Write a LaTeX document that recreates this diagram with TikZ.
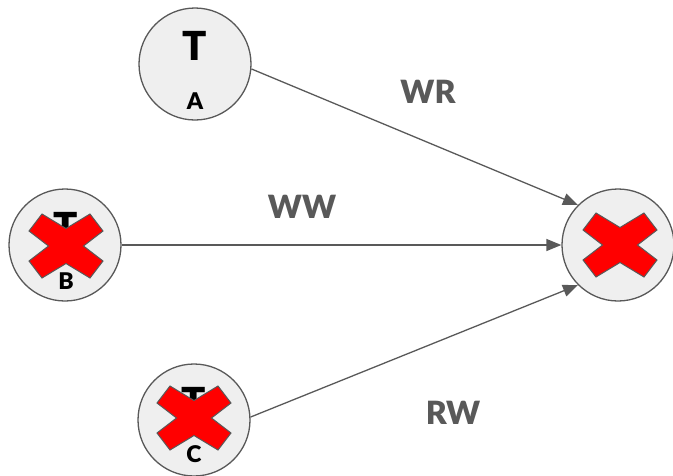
\documentclass[tikz,border=0pt]{standalone}
\usepackage{fontspec}
\setmainfont{Lato}[BoldFont={Lato Black}]
\usetikzlibrary{arrows.meta}
\definecolor{edgegray}{HTML}{595959}
\definecolor{nodefill}{HTML}{EFEFEF}
\definecolor{xred}{HTML}{FF0000}
\tikzset{
  txnode/.style={circle, draw=edgegray, fill=nodefill, line width=1.3pt, minimum size=112pt, inner sep=0pt},
  bigT/.style={font=\bfseries\fontsize{40}{40}\selectfont, inner sep=0pt},
  small/.style={font=\bfseries\fontsize{23}{23}\selectfont, inner sep=0pt},
  conn/.style={draw=edgegray, line width=1.3pt, -{Triangle[length=15pt,width=12pt]}},
  lbl/.style={font=\bfseries\fontsize{32}{32}\selectfont, text=edgegray, inner sep=0pt},
  xmark/.pic={\draw[draw=edgegray, fill=xred, line width=1pt, line join=miter]
    (-37,-15) -- (-24,-32) -- (0,-17.5) -- (24,-32) -- (37,-15) -- (17.5,0) --
    (37,15) -- (24,32) -- (0,17.5) -- (-24,32) -- (-37,15) -- (-17.5,0) -- cycle;}
}
\begin{document}
\begin{tikzpicture}[x=1pt,y=-1pt]
\useasboundingbox (0,0) rectangle (673,475);
% nodes
\node[txnode] (A) at (195,64) {};
\node[txnode] (B) at (65,245) {};
\node[txnode] (C) at (194,420) {};
\node[txnode] (D) at (618,245) {};
% texts
\node[bigT] (tA) at (195,46) {T};
\node[small] (lA) at (195,101) {A};
\node[bigT] (tB) at (66,227) {T};
\node[small] (lB) at (66,281) {B};
\node[bigT] (tC) at (194,402) {T};
\node[small] (lC) at (194,454) {C};
% crosses
\pic at (66,246) {xmark};
\pic at (194,418) {xmark};
\pic at (620,245) {xmark};
% connectors
\draw[conn] (A.-5) -- (D.north west);
\draw[conn] (B.east) -- (D.west);
\draw[conn] (C.3) -- (D.south west);
% labels
\node[lbl] (wr) at (428,92) {WR};
\node[lbl] (ww) at (302,207) {WW};
\node[lbl] (rw) at (453,413) {RW};
\end{tikzpicture}
\end{document}
